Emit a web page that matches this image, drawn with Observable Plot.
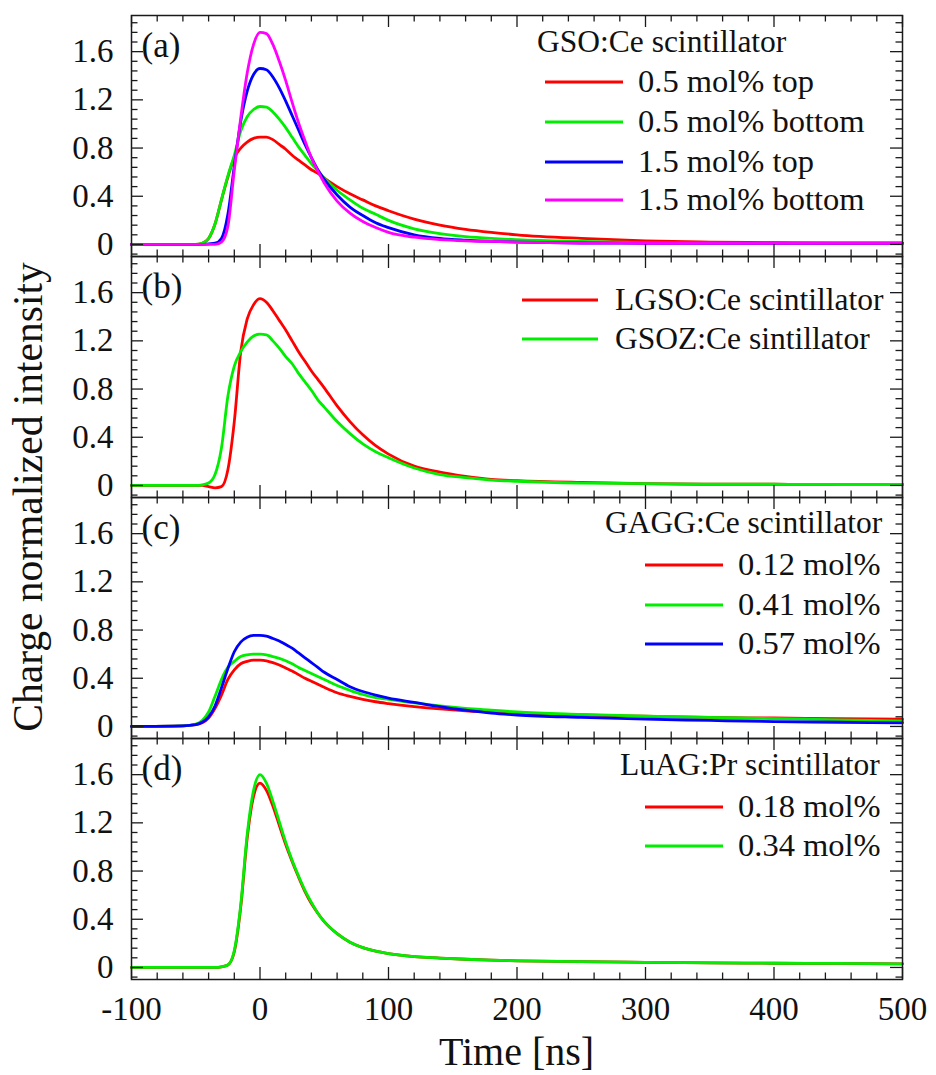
<!DOCTYPE html>
<html>
<head>
<meta charset="utf-8">
<script src="https://cdn.jsdelivr.net/npm/d3@7"></script>
<script src="https://cdn.jsdelivr.net/npm/@observablehq/plot@0.6"></script>
<style>
  body { margin: 0; background: #fff; }
  #chart { position: relative; width: 936px; height: 1075px; background: #fff; }
  #chart svg {
    position: absolute; left: 0; overflow: visible;
    font-family: "Liberation Serif", "Times New Roman", serif !important;
    font-size: 33px !important;
  }
  #chart svg text { font-family: "Liberation Serif", "Times New Roman", serif !important; }
</style>
</head>
<body>
<div id="chart"></div>
<script>
// Time samples [ns] shared by every trace
const time = [-100, -60, -50, -45, -40, -35, -30, -25, -20, -15, -10, -5, 0, 5, 10, 15, 20, 25, 30, 35, 40, 45, 50,
  60, 70, 80, 90, 100, 120, 140, 160, 180, 200, 250, 300, 350, 400, 450, 500];

// (a) GSO:Ce
const gso05Top    = [0, 0, 0, 0.01, 0.05, 0.17, 0.37, 0.56, 0.72, 0.80, 0.85, 0.88, 0.89, 0.89, 0.87, 0.83, 0.79, 0.74, 0.70, 0.66, 0.62, 0.59, 0.55,
  0.48, 0.42, 0.37, 0.32, 0.28, 0.21, 0.16, 0.125, 0.10, 0.08, 0.05, 0.03, 0.02, 0.015, 0.01, 0.01];
const gso05Bottom = [0, 0, 0, 0.01, 0.05, 0.17, 0.37, 0.57, 0.74, 0.94, 1.06, 1.12, 1.145, 1.14, 1.10, 1.04, 0.97, 0.89, 0.81, 0.74, 0.67, 0.61, 0.55,
  0.45, 0.37, 0.30, 0.25, 0.20, 0.13, 0.09, 0.065, 0.05, 0.04, 0.025, 0.015, 0.012, 0.01, 0.01, 0.01];
const gso15Top    = [0, 0, 0, 0, 0.005, 0.01, 0.05, 0.25, 0.65, 1.02, 1.27, 1.41, 1.46, 1.45, 1.39, 1.30, 1.19, 1.07, 0.95, 0.83, 0.72, 0.62, 0.54,
  0.41, 0.31, 0.24, 0.18, 0.14, 0.08, 0.05, 0.035, 0.025, 0.02, 0.012, 0.01, 0.01, 0.01, 0.01, 0.01];
const gso15Bottom = [0, 0, 0, 0, 0, 0, 0.02, 0.15, 0.62, 1.05, 1.42, 1.66, 1.76, 1.75, 1.66, 1.52, 1.36, 1.18, 1.01, 0.86, 0.72, 0.61, 0.51,
  0.36, 0.26, 0.19, 0.14, 0.10, 0.06, 0.04, 0.03, 0.025, 0.02, 0.012, 0.01, 0.01, 0.01, 0.01, 0.01];

// (b) LGSO:Ce and GSOZ:Ce
const lgso = [0, 0, 0, 0, -0.01, -0.02, -0.01, 0.13, 0.53, 1.11, 1.38, 1.50, 1.55, 1.52, 1.45, 1.37, 1.29, 1.20, 1.11, 1.03, 0.95, 0.88, 0.81,
  0.66, 0.53, 0.42, 0.33, 0.26, 0.16, 0.11, 0.075, 0.05, 0.04, 0.025, 0.015, 0.01, 0.01, 0.008, 0.008];
const gsoz = [0, 0, 0, 0.005, 0.02, 0.09, 0.31, 0.74, 0.99, 1.11, 1.19, 1.24, 1.255, 1.25, 1.20, 1.14, 1.07, 1.01, 0.93, 0.86, 0.79, 0.71, 0.65,
  0.53, 0.43, 0.345, 0.28, 0.23, 0.145, 0.09, 0.065, 0.045, 0.035, 0.02, 0.015, 0.01, 0.01, 0.008, 0.008];

// (c) GAGG:Ce
const gagg012 = [0, 0.005, 0.015, 0.03, 0.07, 0.15, 0.26, 0.39, 0.47, 0.52, 0.54, 0.55, 0.55, 0.545, 0.53, 0.51, 0.485, 0.46, 0.43, 0.40, 0.375, 0.35, 0.325,
  0.28, 0.25, 0.225, 0.205, 0.19, 0.165, 0.145, 0.13, 0.12, 0.11, 0.095, 0.085, 0.075, 0.07, 0.065, 0.06];
const gagg041 = [0, 0.005, 0.02, 0.05, 0.12, 0.25, 0.39, 0.49, 0.54, 0.58, 0.595, 0.60, 0.60, 0.595, 0.58, 0.565, 0.545, 0.52, 0.49, 0.465, 0.44, 0.415, 0.39,
  0.34, 0.30, 0.265, 0.24, 0.225, 0.195, 0.17, 0.15, 0.135, 0.12, 0.10, 0.085, 0.075, 0.065, 0.055, 0.045];
const gagg057 = [0, 0.005, 0.015, 0.035, 0.08, 0.17, 0.32, 0.48, 0.62, 0.70, 0.74, 0.755, 0.756, 0.75, 0.73, 0.71, 0.68, 0.65, 0.61, 0.57, 0.53, 0.49, 0.45,
  0.39, 0.33, 0.29, 0.26, 0.235, 0.20, 0.165, 0.135, 0.11, 0.095, 0.075, 0.06, 0.05, 0.04, 0.035, 0.03];

// (d) LuAG:Pr
const luag018 = [0, 0, 0, 0, 0, 0, 0.005, 0.02, 0.13, 0.50, 1.07, 1.42, 1.53, 1.47, 1.34, 1.18, 1.02, 0.88, 0.75, 0.63, 0.53, 0.45, 0.38,
  0.28, 0.21, 0.165, 0.135, 0.115, 0.09, 0.078, 0.068, 0.06, 0.055, 0.048, 0.042, 0.038, 0.035, 0.033, 0.03];
const luag034 = [0, 0, 0, 0, 0, 0, 0.005, 0.02, 0.14, 0.52, 1.10, 1.47, 1.60, 1.53, 1.38, 1.21, 1.04, 0.89, 0.76, 0.64, 0.54, 0.45, 0.38,
  0.28, 0.21, 0.165, 0.135, 0.115, 0.09, 0.078, 0.068, 0.06, 0.055, 0.048, 0.042, 0.038, 0.035, 0.033, 0.03];

// Legend texts and trace colours
const panelLabels = ["(a)", "(b)", "(c)", "(d)"];
const legendTitles = ["GSO:Ce scintillator", null, "GAGG:Ce scintillator", "LuAG:Pr scintillator"];
const namesA = ["0.5 mol% top", "0.5 mol% bottom", "1.5 mol% top", "1.5 mol% bottom"];
const namesB = ["LGSO:Ce scintillator", "GSOZ:Ce sintillator"];
const namesC = ["0.12 mol%", "0.41 mol%", "0.57 mol%"];
const namesD = ["0.18 mol%", "0.34 mol%"];
const RED = "#ff0000", GREEN = "#00ee00", BLUE = "#0000ff", MAGENTA = "#ff00ff";

// Axis ticks
const xTicks = [-100, 0, 100, 200, 300, 400, 500];
const yTicks = [0, 0.4, 0.8, 1.2, 1.6];
const xMinor = d3.range(-80, 500, 20).filter(d => d % 100 !== 0);
const yMinor = d3.range(-8, 186, 8).map(d => d / 100).filter(d => Math.round(d * 100) % 40 !== 0);

const FONT = "'Liberation Serif', 'Times New Roman', serif";
const WIDTH = 936, ML = 131, MR = 34, PH = 241, TOP = 15;
const innerW = WIDTH - ML - MR;
const INK = "#1a1a1a";

const panels = [
  {
    series: [gso05Top, gso05Bottom, gso15Top, gso15Bottom], names: namesA,
    colors: [RED, GREEN, BLUE, MAGENTA],
    legend: {titleX: 537, titleY: 27, swatch: [545, 623], textX: 638, rows: [67, 107, 147, 185], size: 32.5}
  },
  {
    series: [lgso, gsoz], names: namesB, colors: [RED, GREEN],
    legend: {swatch: [522, 598], textX: 615, rows: [44, 83], size: 31.5}
  },
  {
    series: [gagg012, gagg041, gagg057], names: namesC, colors: [RED, GREEN, BLUE],
    legend: {titleX: 605, titleY: 26, swatch: [645, 723], textX: 738, rows: [68, 108, 147], size: 32.5}
  },
  {
    series: [luag018, luag034], names: namesD, colors: [RED, GREEN],
    legend: {titleX: 620, titleY: 27, swatch: [645, 723], textX: 738, rows: [69, 108], size: 32.5}
  }
];

const rowsOf = values => time.map((t, i) => ({t, v: values[i]}));
const chart = document.getElementById("chart");

panels.forEach((p, k) => {
  const bottom = k === panels.length - 1;
  const MB = bottom ? 95 : 0;
  const tickStyle = {stroke: INK, strokeWidth: 1.3};
  const plot = Plot.plot({
    width: WIDTH,
    height: PH + MB,
    marginLeft: ML, marginRight: MR, marginTop: 0, marginBottom: MB,
    style: {fontFamily: FONT, fontSize: "33px", background: "transparent", color: "#111", overflow: "visible"},
    x: {domain: [-100, 500], ticks: xTicks, tickSize: 0, tickPadding: 17,
        tickFormat: d => String(d), label: null, axis: bottom ? "bottom" : null},
    y: {domain: [-0.1, 1.9], ticks: yTicks, tickSize: 0, tickPadding: 18,
        tickFormat: d => d === 0 ? "0" : d.toFixed(1), label: null},
    marks: [
      ...p.series.map((s, i) => Plot.line(rowsOf(s), {
        x: "t", y: "v", stroke: p.colors[i], strokeWidth: 2.8, curve: "monotone-x"
      })),
      // inward ticks on all four sides
      Plot.tickX(xTicks, {x: d => d, insetTop: PH - 12, ...tickStyle}),
      Plot.tickX(xTicks, {x: d => d, insetBottom: PH - 12, ...tickStyle}),
      Plot.tickX(xMinor, {x: d => d, insetTop: PH - 6.5, ...tickStyle}),
      Plot.tickX(xMinor, {x: d => d, insetBottom: PH - 6.5, ...tickStyle}),
      Plot.tickY(yTicks, {y: d => d, insetRight: innerW - 12, ...tickStyle}),
      Plot.tickY(yTicks, {y: d => d, insetLeft: innerW - 12, ...tickStyle}),
      Plot.tickY(yMinor, {y: d => d, insetRight: innerW - 6.5, ...tickStyle}),
      Plot.tickY(yMinor, {y: d => d, insetLeft: innerW - 6.5, ...tickStyle}),
      Plot.frame({stroke: INK, strokeWidth: 1.5}),
      Plot.text([panelLabels[k]], {
        text: d => d, frameAnchor: "top-left", dx: 10, dy: 17,
        textAnchor: "start", lineAnchor: "top", fontSize: 35, fill: "#111"
      })
    ]
  });
  plot.style.top = (TOP + PH * k) + "px";
  chart.appendChild(plot);

  // legend block inside the panel
  const svg = d3.select(plot);
  const L = p.legend;
  const g = svg.append("g")
    .attr("font-family", FONT).attr("fill", "#111").attr("text-anchor", "start");
  if (legendTitles[k]) {
    g.append("text").attr("x", L.titleX).attr("y", L.titleY).attr("dy", "0.32em")
      .attr("text-anchor", "start").style("font-size", "31.5px").text(legendTitles[k]);
  }
  p.names.forEach((name, i) => {
    g.append("line")
      .attr("x1", L.swatch[0]).attr("x2", L.swatch[1])
      .attr("y1", L.rows[i]).attr("y2", L.rows[i])
      .attr("stroke", p.colors[i]).attr("stroke-width", 3);
    g.append("text").attr("x", L.textX).attr("y", L.rows[i]).attr("dy", "0.32em")
      .attr("text-anchor", "start").style("font-size", L.size + "px").text(name);
  });
});

// axis titles
const overlay = d3.select(chart).append("svg")
  .attr("width", WIDTH).attr("height", 1075)
  .style("top", "0px").style("pointer-events", "none")
  .attr("font-family", FONT).attr("fill", "#111");
overlay.append("text")
  .attr("transform", `translate(42,${TOP + PH * 2}) rotate(-90)`)
  .attr("text-anchor", "middle").style("font-size", "41.5px")
  .text("Charge normalized intensity");
overlay.append("text")
  .attr("x", ML + innerW / 2).attr("y", 1065)
  .attr("text-anchor", "middle").style("font-size", "40px")
  .text("Time [ns]");
</script>
</body>
</html>
